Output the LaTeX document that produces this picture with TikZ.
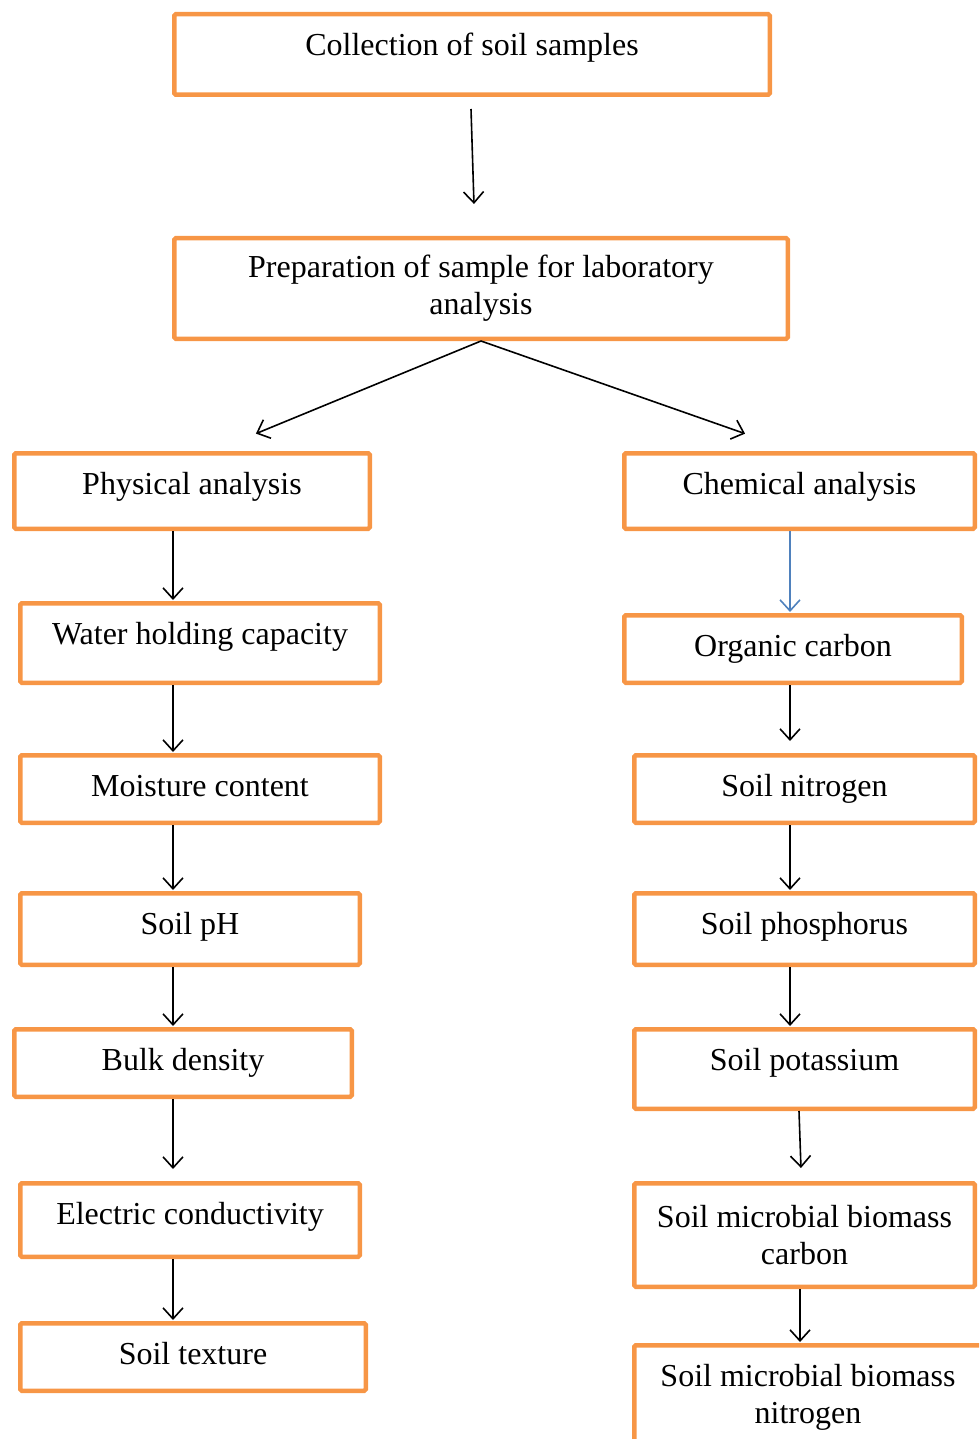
\documentclass[tikz,border=0pt]{standalone}
\usepackage{fontspec}
\setmainfont{Liberation Serif}
\usetikzlibrary{arrows.meta}

\definecolor{boxorange}{RGB}{247,150,70}
\definecolor{linkblue}{RGB}{79,129,189}

\tikzset{every picture/.style={line width=1.6pt}}
\tikzset{
  stagebox/.style={draw=boxorange, line width=4.5pt, rounded corners=1.5pt,
    align=center, inner sep=0pt, font=\fontsize{32}{37}\selectfont},
  topline/.style={text height=41pt, text depth=#1},
  flow/.style={-{Straight Barb[length=11pt,width=20pt]}, shorten >=1pt},
}

\begin{document}
\begin{tikzpicture}[x=1pt,y=1pt,yscale=-1,xscale=1]
    \useasboundingbox (0,0) rectangle (979,1439);
    \clip (0,0) rectangle (979,1439);

    % column lines
    \coordinate (colL) at (173,0);
    \coordinate (colR) at (790,0);

    % Top boxes
    \node [stagebox, topline=39.5pt, minimum width=595.5] (coll) at (472,54.5) {Collection of soil samples};
    \node [stagebox, minimum width=613.5, minimum height=100.5] (prep) at (481,288.5) {Preparation of sample for laboratory\\analysis};

    % Physical side
    \node [stagebox, topline=34.5pt, minimum width=355.5] (phys) at (192,491) {Physical analysis};
    \node [stagebox, topline=38.5pt, minimum width=359.5] (water) at (200,643) {Water holding capacity};
    \node [stagebox, topline=26.5pt, minimum width=359.5] (moist) at (200,789) {Moisture content};
    \node [stagebox, topline=30.5pt, minimum width=339.5] (ph) at (190,929) {Soil pH};
    \node [stagebox, topline=26.5pt, minimum width=337.5] (bulk) at (183,1063) {Bulk density};
    \node [stagebox, topline=32.5pt, minimum width=339.5] (ec) at (190,1220) {Electric conductivity};
    \node [stagebox, topline=26.5pt, minimum width=345.5] (texture) at (193,1357) {Soil texture};

    % Chemical side
    \node [stagebox, topline=34.5pt, minimum width=350.5] (chem) at (799.5,491) {Chemical analysis};
    \node [stagebox, topline=26.5pt, minimum width=337.5] (orgc) at (793,649) {Organic carbon};
    \node [stagebox, topline=26.5pt, minimum width=340.5] (nitro) at (804.5,789) {Soil nitrogen};
    \node [stagebox, topline=30.5pt, minimum width=340.5] (phos) at (804.5,929) {Soil phosphorus};
    \node [stagebox, topline=38.5pt, minimum width=340.5] (potas) at (804.5,1069) {Soil potassium};
    \node [stagebox, minimum width=340.5, minimum height=103.5] (mbc) at (804.5,1235) {Soil microbial biomass\\carbon};
    \node [stagebox, minimum width=347.5, minimum height=103.5] (mbn) at (808,1397) {Soil microbial biomass\\nitrogen};

    % Arrows
    \draw [flow] ([shift={(-1pt,12pt)}]coll.south) -- ([shift={(-7pt,-31pt)}]prep.north);
    \draw [flow] (prep.south) -- ([shift={(63pt,-17pt)}]phys.north);
    \draw [flow] (prep.south) -- ([shift={(-53.5pt,-17pt)}]chem.north);

    \draw [flow] (phys.south -| colL) -- (water.north -| colL);
    \draw [flow] (water.south -| colL) -- (moist.north -| colL);
    \draw [flow] (moist.south -| colL) -- (ph.north -| colL);
    \draw [flow] (ph.south -| colL) -- (bulk.north -| colL);
    \draw [flow] (bulk.south -| colL) -- ([yshift=-11pt]ec.north -| colL);
    \draw [flow] (ec.south -| colL) -- (texture.north -| colL);

    \draw [flow, linkblue] (chem.south -| colR) -- (orgc.north -| colR);
    \draw [flow] (orgc.south -| colR) -- ([yshift=-11pt]nitro.north -| colR);
    \draw [flow] (nitro.south -| colR) -- (phos.north -| colR);
    \draw [flow] (phos.south -| colR) -- (potas.north -| colR);
    \draw [flow] ([xshift=-5.5pt]potas.south) -- ([shift={(-3.5pt,-12pt)}]mbc.north);
    \draw [flow] ([xshift=-4.5pt]mbc.south) -- ([xshift=-8pt]mbn.north);

\end{tikzpicture}
\end{document}
